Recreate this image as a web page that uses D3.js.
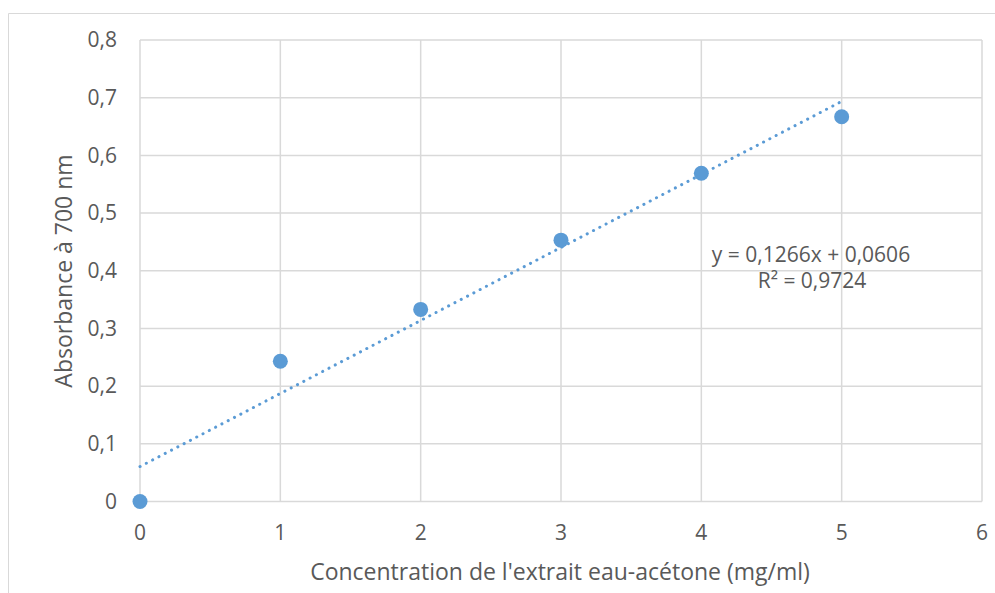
<!DOCTYPE html>
<html><head><meta charset="utf-8">
<script src="https://cdn.jsdelivr.net/npm/d3@7"></script>
<style>body{margin:0;background:#fff}svg{display:block}text{font-family:"Open Sans",sans-serif;fill:#595959}</style>
</head><body><svg id="c" width="995" height="593"></svg>
<script>
const concentrations = [0, 1, 2, 3, 4, 5];
const absorbance = [0, 0.243, 0.333, 0.453, 0.569, 0.667];
const xTicks = [0, 1, 2, 3, 4, 5, 6];
const yTicks = [0, 0.1, 0.2, 0.3, 0.4, 0.5, 0.6, 0.7, 0.8];
const equationText = "y = 0,1266x + 0,0606";
const r2Text = "R² = 0,9724";
const xTitle = "Concentration de l'extrait eau-acétone (mg/ml)";
const yTitle = "Absorbance à 700 nm";
const slope = 0.1266, intercept = 0.0606;

const svg = d3.select("#c");
const W = 995, H = 593;
const m = {left: 140, right: 13, top: 40, bottom: 91.5};
const x = d3.scaleLinear().domain([0, 6]).range([m.left, W - m.right]);
const y = d3.scaleLinear().domain([0, 0.8]).range([H - m.bottom, m.top]);
const fmt = d => d3.format(".1f")(d).replace(".", ",");

// outer chart border
svg.append("path").attr("d", `M8.5,${H}V13.5H${W}`).attr("fill", "none").attr("stroke", "#d9d9d9").attr("stroke-width", 1);

// gridlines
svg.append("g").selectAll("line").data(yTicks).join("line")
  .attr("x1", x(0)).attr("x2", x(6)).attr("y1", d => y(d)).attr("y2", d => y(d))
  .attr("stroke", "#d9d9d9").attr("stroke-width", 1.5);
svg.append("g").selectAll("line").data(xTicks).join("line")
  .attr("y1", y(0)).attr("y2", y(0.8)).attr("x1", d => x(d)).attr("x2", d => x(d))
  .attr("stroke", "#d9d9d9").attr("stroke-width", 1.5);

// tick labels
svg.append("g").selectAll("text").data(yTicks).join("text")
  .attr("x", 117).attr("y", d => y(d)).attr("dy", "0.35em").attr("text-anchor", "end")
  .attr("font-size", 21).text(d => d === 0 ? "0" : fmt(d));
svg.append("g").selectAll("text").data(xTicks).join("text")
  .attr("x", d => x(d)).attr("y", 540).attr("text-anchor", "middle")
  .attr("font-size", 21).text(d => d);

// axis titles
svg.append("text").attr("x", 560).attr("y", 580).attr("text-anchor", "middle")
  .attr("font-size", 23).text(xTitle);
svg.append("text").attr("transform", "translate(72,271) rotate(-90)").attr("text-anchor", "middle")
  .attr("font-size", 23).text(yTitle);

// trendline
svg.append("line")
  .attr("x1", x(0)).attr("y1", y(intercept))
  .attr("x2", x(5)).attr("y2", y(intercept + slope * 5))
  .attr("stroke", "#5b9bd5").attr("stroke-width", 3)
  .attr("stroke-linecap", "round").attr("stroke-dasharray", "0.1,7");

// points
svg.append("g").selectAll("circle").data(concentrations).join("circle")
  .attr("cx", d => x(d)).attr("cy", (d, i) => y(absorbance[i])).attr("r", 7.5)
  .attr("fill", "#5b9bd5");

// equation labels
svg.append("text").attr("x", 811).attr("y", 262).attr("text-anchor", "middle").attr("font-size", 21).text(equationText);
svg.append("text").attr("x", 812).attr("y", 288).attr("text-anchor", "middle").attr("font-size", 21).text(r2Text);
</script></body></html>
